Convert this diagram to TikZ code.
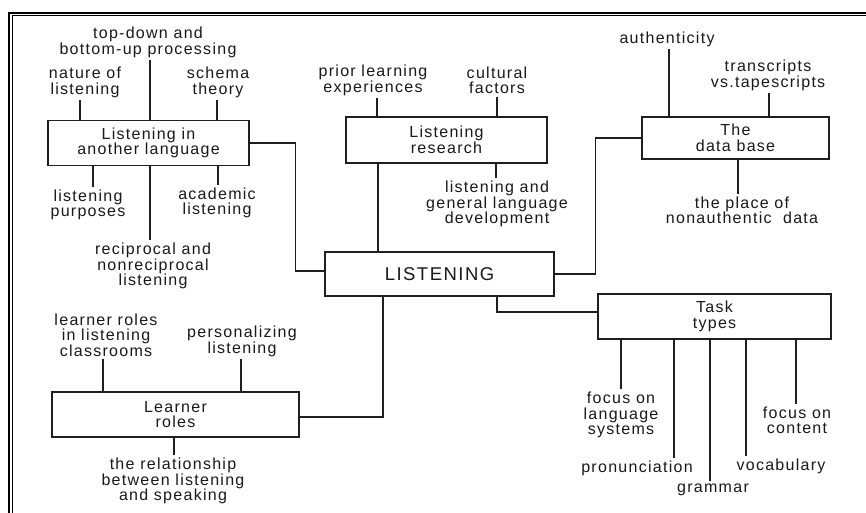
\documentclass[tikz,border=0pt]{standalone}
\usepackage{fontspec}
\setmainfont{Liberation Sans}[LetterSpace=8]
\begin{document}
\begin{tikzpicture}[x=1pt,y=-1pt,
  box/.style={draw=black!88,line width=1.3pt,rectangle,align=center,inner sep=0pt,
    font=\fontsize{16}{15.5}\selectfont,text=black!90},
  lab/.style={align=center,inner sep=2.5pt,font=\fontsize{16}{15.5}\selectfont,text=black!90},
  con/.style={draw=black!88,line width=1.2pt}]
\useasboundingbox (0,0) rectangle (866,513);
\fill[white] (0,0) rectangle (866,513);
% frame
\draw[black,line width=1.6pt] (8,13) -- (866,13);
\draw[black,line width=1.6pt] (9,13) -- (9,513);
\draw[black,line width=1pt] (12,15.7) -- (866,15.7);
\draw[black,line width=1pt] (12,15.7) -- (12,513);
% boxes
\node[box,minimum width=201,minimum height=45] (A) at (148.5,143) {Listening in\\another language};
\node[box,minimum width=201,minimum height=46] (R) at (446.5,140) {Listening\\research};
\node[box,minimum width=187,minimum height=42] (D) at (735.5,138) {The\\data base};
\node[box,minimum width=229,minimum height=44,font=\fontsize{18.5}{18}\selectfont] (L) at (439.5,274) {LISTENING};
\node[box,minimum width=233,minimum height=45] (T) at (714.5,316.5) {Task\\types};
\node[box,minimum width=247,minimum height=45] (Lr) at (175.5,414.5) {Learner\\roles};
% labels
\node[lab] (natl) at (85,82.5) {nature of\\listening};
\node[lab] (tdbu) at (148,42.5) {top-down and\\bottom-up processing};
\node[lab] (schema) at (218,82.5) {schema\\theory};
\node[lab] (purp) at (88,205) {listening\\purposes};
\node[lab] (acad) at (217,203) {academic\\listening};
\node[lab] (recip) at (153,266) {reciprocal and\\nonreciprocal\\listening};
\node[lab] (prior) at (373,80.5) {prior learning\\experiences};
\node[lab] (cult) at (497,80.5) {cultural\\factors};
\node[lab] (lgld) at (497,204) {listening and\\general language\\development};
\node[lab] (auth) at (667,39) {authenticity};
\node[lab] (trans) at (768,75.5) {transcripts\\vs.tapescripts};
\node[lab] (place) at (742,210.5) {the place of\\nonauthentic~~data};
\node[lab] (fols) at (621,415) {focus on\\language\\systems};
\node[lab] (pron) at (637,468) {pronunciation};
\node[lab] (gram) at (713,490) {grammar};
\node[lab] (vocab) at (781,466) {vocabulary};
\node[lab] (foc) at (797,420.5) {focus on\\content};
\node[lab] (lrlc) at (106,335) {learner roles\\in listening\\classrooms};
\node[lab] (pers) at (242,341.5) {personalizing\\listening};
\node[lab] (rel) at (173,481) {the relationship\\between listening\\and speaking};
% label connectors
\draw[con] ([xshift=-5pt]natl.south) -- ([xshift=-5pt]natl.south |- A.north);
\draw[con] ([xshift=2pt]tdbu.south) -- ([xshift=2pt]tdbu.south |- A.north);
\draw[con] ([xshift=-1pt]schema.south) -- ([xshift=-1pt]schema.south |- A.north);
\draw[con] ([xshift=5pt]purp.north) -- ([xshift=5pt]purp.north |- A.south);
\draw[con] ([xshift=1pt]acad.north) -- ([xshift=1pt]acad.north |- A.south);
\draw[con] ([xshift=-3pt]recip.north) -- ([xshift=-3pt]recip.north |- A.south);
\draw[con] ([xshift=4pt]prior.south) -- ([xshift=4pt]prior.south |- R.north);
\draw[con] (cult.south) -- (cult.south |- R.north);
\draw[con] ([xshift=-1pt]lgld.north) -- ([xshift=-1pt]lgld.north |- R.south);
\draw[con] ([xshift=2pt]auth.south) -- ([xshift=2pt]auth.south |- D.north);
\draw[con] ([xshift=1pt]trans.south) -- ([xshift=1pt]trans.south |- D.north);
\draw[con] ([xshift=-4pt]place.north) -- ([xshift=-4pt]place.north |- D.south);
\draw[con] (fols.north) -- (fols.north |- T.south);
\draw[con] ([xshift=37pt]pron.north) -- ([xshift=37pt]pron.north |- T.south);
\draw[con] ([xshift=-3pt]gram.north) -- ([xshift=-3pt]gram.north |- T.south);
\draw[con] ([xshift=-35pt]vocab.north) -- ([xshift=-35pt]vocab.north |- T.south);
\draw[con] ([xshift=-1pt]foc.north) -- ([xshift=-1pt]foc.north |- T.south);
\draw[con] ([xshift=-3pt]lrlc.south) -- ([xshift=-3pt]lrlc.south |- Lr.north);
\draw[con] ([xshift=-1pt]pers.south) -- ([xshift=-1pt]pers.south |- Lr.north);
\draw[con] ([xshift=1pt]rel.north) -- ([xshift=1pt]rel.north |- Lr.south);
% box connectors
\draw[con] (A.east) -| ([xshift=-29pt,yshift=3pt]L.west) -- ([yshift=3pt]L.west);
\draw[con] ([xshift=-68.5pt]R.south) -- ([xshift=-68.5pt]R.south |- L.north);
\draw[con] (L.east) -| ([xshift=-46pt]D.west) -- (D.west);
\draw[con] ([xshift=57.5pt]L.south) |- ([yshift=4.5pt]T.west);
\draw[con] ([yshift=-2.5pt]Lr.east) -| ([xshift=-56.5pt]L.south);
\end{tikzpicture}
\end{document}
